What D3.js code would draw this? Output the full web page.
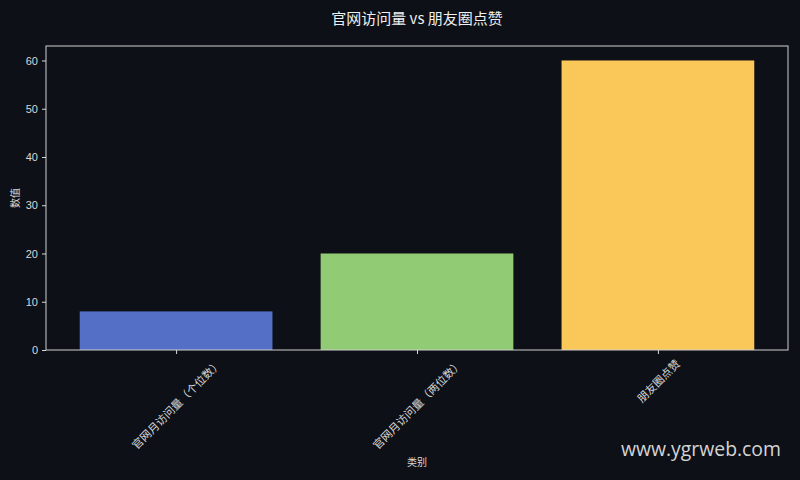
<!DOCTYPE html>
<html>
<head>
<meta charset="utf-8">
<script src="https://cdn.jsdelivr.net/npm/d3@7"></script>
<style>
    body { margin: 0; background: #0d1017; }
    svg { display: block; }
    text { font-family: "DejaVu Sans", "Noto Sans CJK SC", sans-serif; }
    .cjk { font-family: "Noto Sans CJK SC", sans-serif; }
</style>
</head>
<body>
<div id="chart"></div>
<script>
'use strict';

const categories = ['官网月访问量（个位数）', '官网月访问量（两位数）', '朋友圈点赞'];
const values = [8, 20, 60];
const colors = ['#5470c6', '#91cc75', '#fac858'];
const yTicks = [0, 10, 20, 30, 40, 50, 60];

const width = 800,
    height = 480,
    margin = { top: 46, right: 12, bottom: 130, left: 46 };

const fg = '#d8d8d8';

let svg = d3.select('#chart').append('svg')
    .attr('width', width)
    .attr('height', height);

svg.append('rect')
    .attr('width', width)
    .attr('height', height)
    .attr('fill', '#0d1017');

// bars of width 0.8 on integer positions, 5% margin like matplotlib
let x = d3.scaleLinear()
    .domain([-0.54, 2.54])
    .range([margin.left, width - margin.right]);

let y = d3.scaleLinear()
    .domain([0, 63])
    .range([height - margin.bottom, margin.top]);

let plot = svg.append('g');

plot.selectAll('.bar')
    .data(values)
    .enter()
    .append('rect')
    .attr('class', 'bar')
    .attr('x', function(d, i) { return x(i - 0.4); })
    .attr('width', function(d, i) { return x(i + 0.4) - x(i - 0.4); })
    .attr('y', function(d) { return y(d); })
    .attr('height', function(d) { return y(0) - y(d); })
    .attr('fill', function(d, i) { return colors[i]; });

// frame
plot.append('rect')
    .attr('x', margin.left)
    .attr('y', margin.top)
    .attr('width', width - margin.left - margin.right)
    .attr('height', height - margin.top - margin.bottom)
    .attr('fill', 'none')
    .attr('stroke', '#cfcfcf')
    .attr('stroke-width', 1);

// y axis
let yAxis = svg.append('g')
    .attr('transform', 'translate(' + margin.left + ',0)')
    .call(d3.axisLeft(y).tickValues(yTicks).tickSize(4).tickPadding(4));
yAxis.select('.domain').remove();
yAxis.selectAll('line').attr('stroke', fg);
yAxis.selectAll('text').attr('fill', fg).attr('font-size', 11)
    .style('font-family', '"Liberation Sans", Arial, sans-serif');

// x axis
let xAxis = svg.append('g')
    .attr('transform', 'translate(0,' + y(0) + ')')
    .call(d3.axisBottom(x).tickValues(d3.range(categories.length)).tickSize(4).tickFormat(''));
xAxis.select('.domain').remove();
xAxis.selectAll('line').attr('stroke', fg);

// rotated category labels, bbox centred under the tick
let fs = 11;
categories.forEach(function(c, i) {
    let t = svg.append('text')
        .attr('class', 'cjk')
        .attr('font-size', fs)
        .attr('fill', fg)
        .attr('text-anchor', 'middle')
        .attr('dominant-baseline', 'central')
        .text(c);
    let len = t.node().getComputedTextLength();
    let h = (len + fs) * Math.SQRT1_2;
    let cx = x(i),
        cy = y(0) + 7 + h / 2;
    t.attr('transform', 'translate(' + cx + ',' + cy + ') rotate(-45)');
});

svg.append('text')
    .attr('class', 'cjk')
    .attr('x', (margin.left + width - margin.right) / 2)
    .attr('y', 466)
    .attr('text-anchor', 'middle')
    .attr('font-size', 10)
    .attr('fill', fg)
    .text('类别');

svg.append('text')
    .attr('class', 'cjk')
    .attr('transform', 'translate(19,' + (margin.top + (height - margin.bottom - margin.top) / 2) + ') rotate(-90)')
    .attr('text-anchor', 'middle')
    .attr('font-size', 10)
    .attr('fill', fg)
    .text('数值');

svg.append('text')
    .attr('class', 'cjk')
    .attr('x', (margin.left + width - margin.right) / 2)
    .attr('y', 24)
    .attr('text-anchor', 'middle')
    .attr('font-size', 15)
    .attr('fill', '#f0f0f0')
    .text('官网访问量 vs 朋友圈点赞');

// watermark
svg.append('text')
    .attr('x', 781)
    .attr('y', 456)
    .attr('text-anchor', 'end')
    .attr('font-size', 19.4)
    .attr('fill', '#d4d4d4')
    .style('font-family', '"Open Sans", sans-serif')
    .text('www.ygrweb.com');
</script>
</body>
</html>
